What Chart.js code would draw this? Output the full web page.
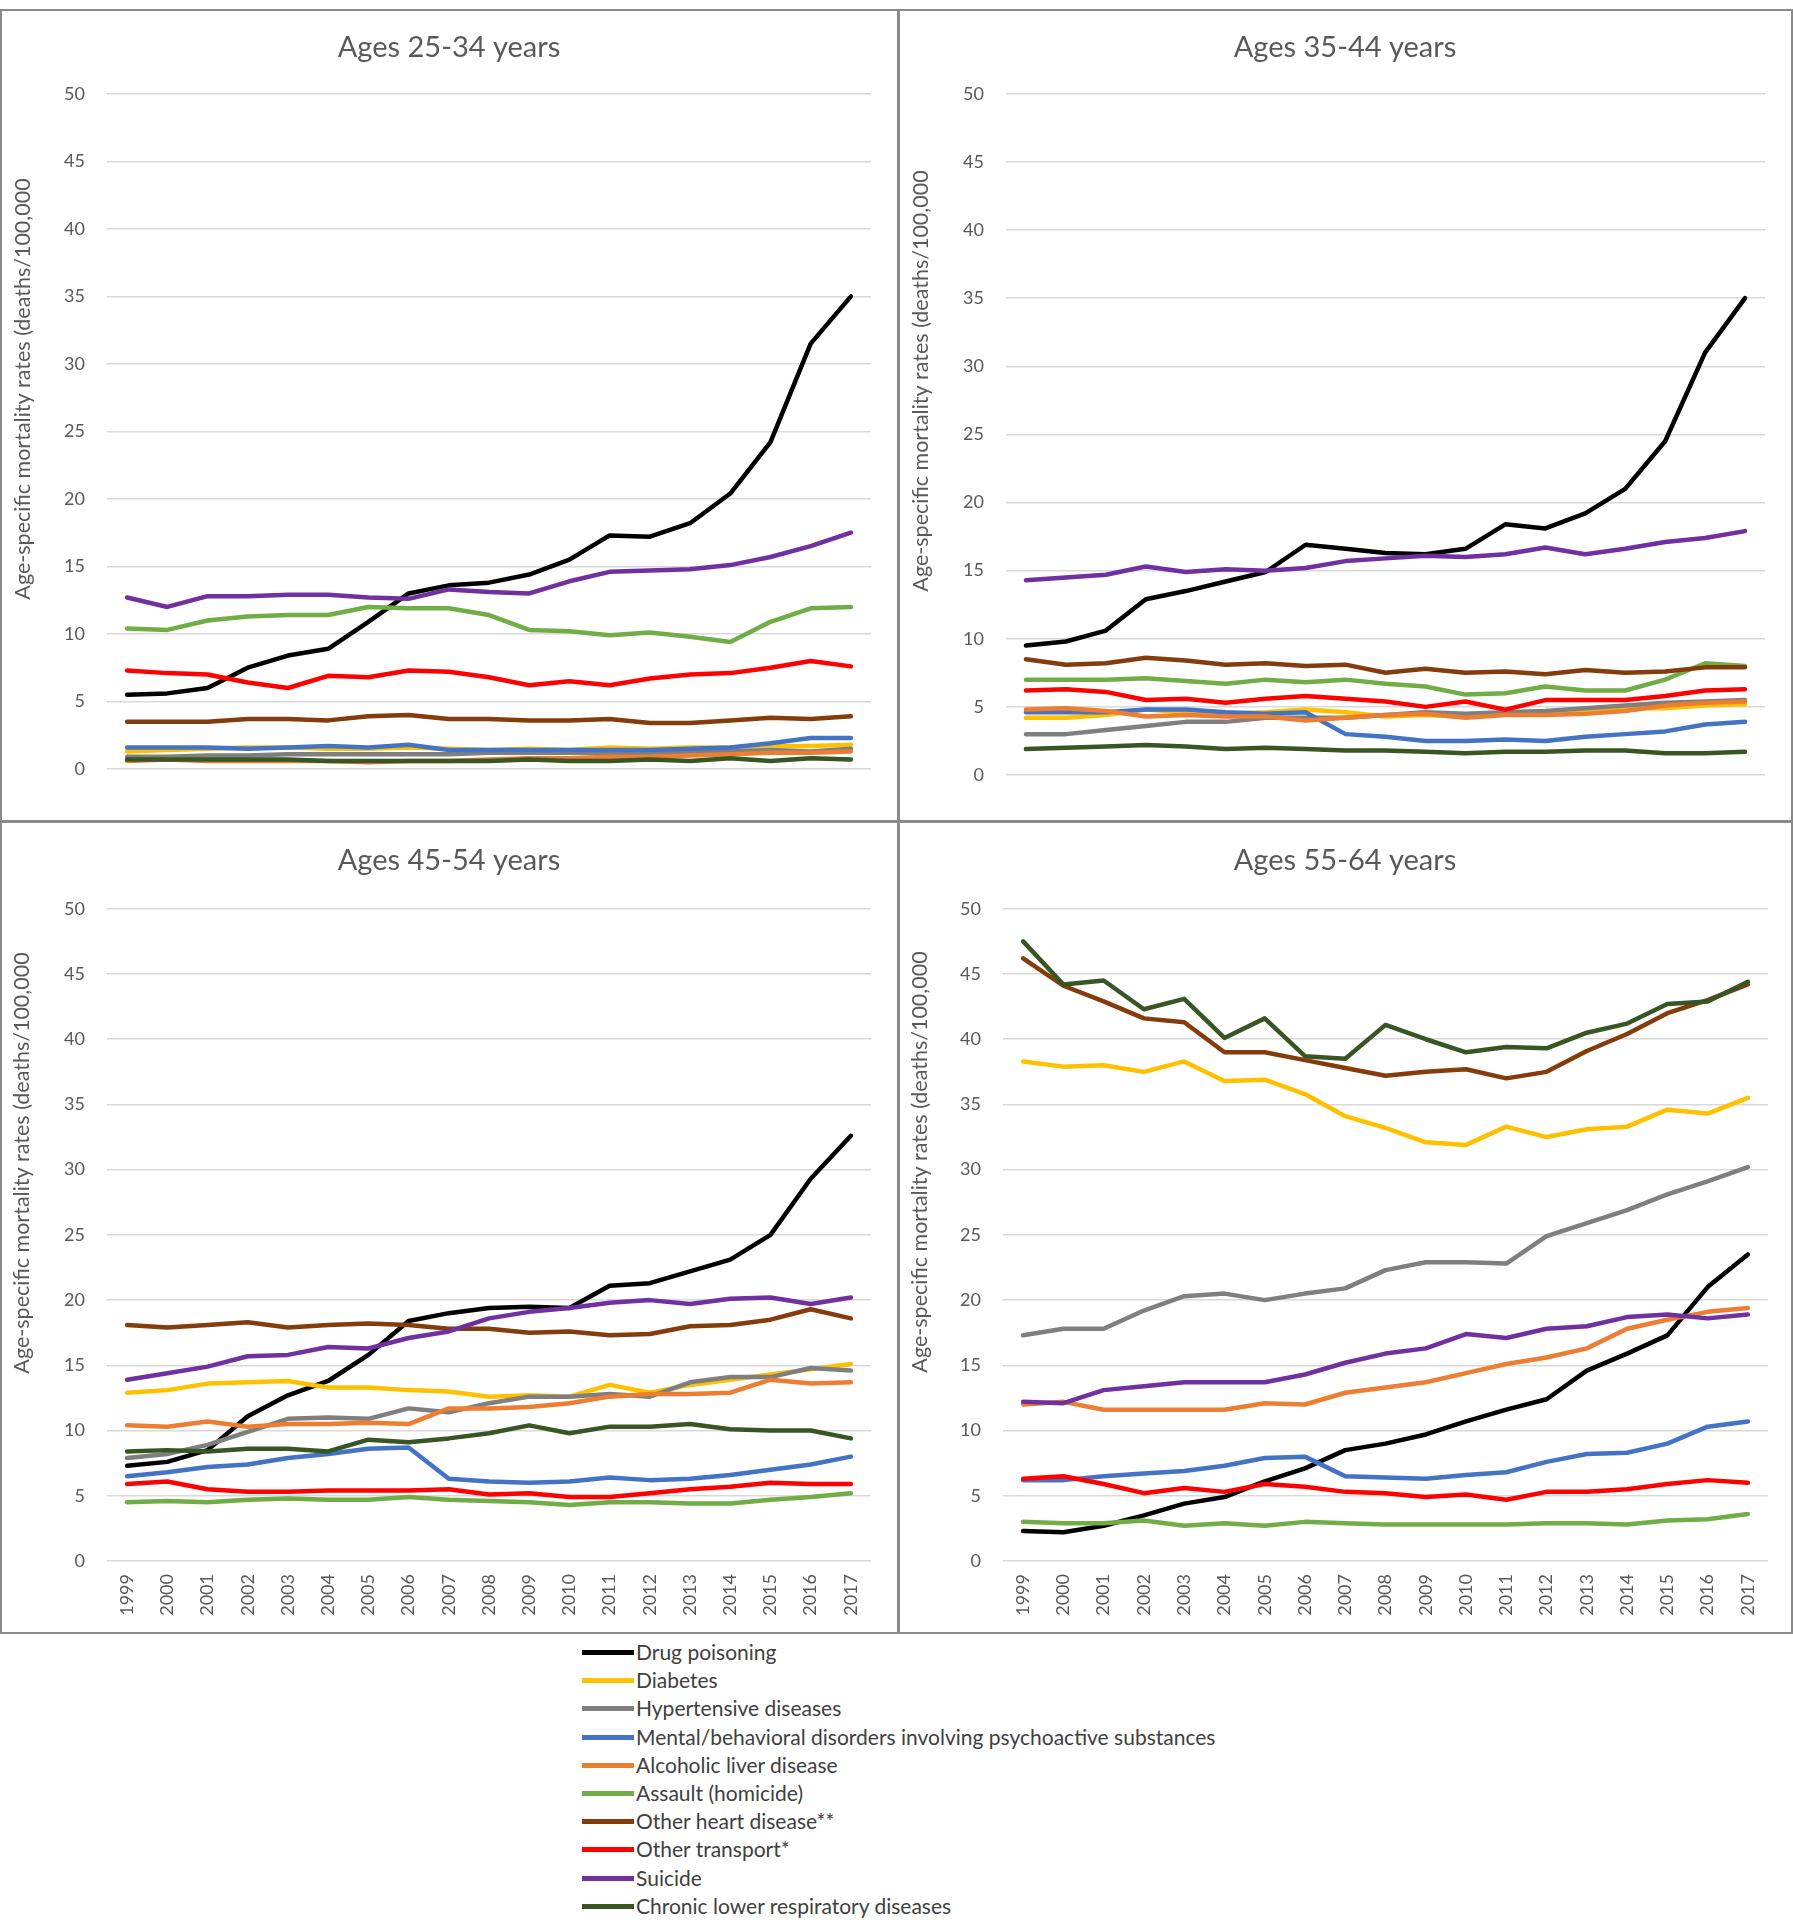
<!DOCTYPE html>
<html>
<head>
<meta charset="utf-8">
<script src="https://cdn.jsdelivr.net/npm/chart.js@4.4.1/dist/chart.umd.min.js"></script>
<style>
  body { margin: 0; background: #fff; width: 1793px; height: 1920px; position: relative; font-family: Lato, sans-serif; }
  canvas { position: absolute; }
  .frame { position: absolute; border: 2px solid #8a8a8a; box-sizing: border-box; pointer-events: none; }
  .legRow { position: absolute; left: 582px; height: 28px; }
  .legLine { position: absolute; left: 0; top: 12px; width: 52px; height: 5px; }
  .legText { position: absolute; left: 54px; top: 1px; font-size: 21px; color: #404040; white-space: nowrap; }
</style>
</head>
<body>
<canvas id="c1" width="898" height="811" style="left:0;top:10px"></canvas>
<canvas id="c2" width="894" height="811" style="left:898px;top:10px"></canvas>
<canvas id="c3" width="898" height="811" style="left:0;top:821px"></canvas>
<canvas id="c4" width="894" height="811" style="left:898px;top:821px"></canvas>
<div class="frame" style="left:0;top:9px;width:900px;height:814px"></div>
<div class="frame" style="left:897px;top:9px;width:896px;height:814px"></div>
<div class="frame" style="left:0;top:820px;width:900px;height:814px"></div>
<div class="frame" style="left:897px;top:820px;width:896px;height:814px"></div>
<div id="legend"></div>
<script>
const years = ['1999','2000','2001','2002','2003','2004','2005','2006','2007','2008','2009','2010','2011','2012','2013','2014','2015','2016','2017'];

const seriesNames = ['Drug poisoning', 'Diabetes', 'Hypertensive diseases',
  'Mental/behavioral disorders involving psychoactive substances', 'Alcoholic liver disease',
  'Assault (homicide)', 'Other heart disease**', 'Other transport*', 'Suicide',
  'Chronic lower respiratory diseases'];
const seriesColors = ['#000000', '#FFC000', '#7F7F7F', '#4472C4', '#ED7D31',
  '#70AD47', '#843C0C', '#FF0000', '#7030A0', '#375623'];

// Ages 25-34
const drug_25 = [5.5,5.6,6.0,7.5,8.4,8.9,10.9,13.0,13.6,13.8,14.4,15.5,17.3,17.2,18.2,20.4,24.2,31.5,35.0];
const diab_25 = [1.3,1.4,1.5,1.6,1.6,1.5,1.5,1.6,1.5,1.4,1.5,1.4,1.6,1.5,1.6,1.6,1.7,1.7,1.8];
const hyp_25 = [0.9,0.9,1.0,1.0,1.1,1.1,1.1,1.1,1.1,1.2,1.2,1.2,1.2,1.2,1.3,1.3,1.4,1.3,1.5];
const ment_25 = [1.6,1.6,1.6,1.5,1.6,1.7,1.6,1.8,1.4,1.4,1.4,1.4,1.4,1.4,1.5,1.6,1.9,2.3,2.3];
const liver_25 = [0.6,0.7,0.6,0.6,0.6,0.6,0.5,0.6,0.6,0.7,0.8,0.8,0.9,0.9,1.0,1.1,1.2,1.2,1.3];
const assault_25 = [10.4,10.3,11.0,11.3,11.4,11.4,12.0,11.9,11.9,11.4,10.3,10.2,9.9,10.1,9.8,9.4,10.9,11.9,12.0];
const heart_25 = [3.5,3.5,3.5,3.7,3.7,3.6,3.9,4.0,3.7,3.7,3.6,3.6,3.7,3.4,3.4,3.6,3.8,3.7,3.9];
const transp_25 = [7.3,7.1,7.0,6.4,6.0,6.9,6.8,7.3,7.2,6.8,6.2,6.5,6.2,6.7,7.0,7.1,7.5,8.0,7.6];
const suic_25 = [12.7,12.0,12.8,12.8,12.9,12.9,12.7,12.6,13.3,13.1,13.0,13.9,14.6,14.7,14.8,15.1,15.7,16.5,17.5];
const clrd_25 = [0.7,0.7,0.7,0.7,0.7,0.6,0.6,0.6,0.6,0.6,0.7,0.6,0.6,0.7,0.6,0.8,0.6,0.8,0.7];

// Ages 35-44
const drug_35 = [9.5,9.8,10.6,12.9,13.5,14.2,14.9,16.9,16.6,16.3,16.2,16.6,18.4,18.1,19.2,21.0,24.5,31.0,35.0];
const diab_35 = [4.2,4.2,4.4,4.8,4.6,4.5,4.6,4.8,4.6,4.3,4.4,4.3,4.5,4.5,4.8,4.9,4.9,5.1,5.2];
const hyp_35 = [3.0,3.0,3.3,3.6,3.9,3.9,4.2,4.2,4.2,4.4,4.6,4.5,4.6,4.7,4.9,5.1,5.3,5.4,5.5];
const ment_35 = [4.6,4.6,4.6,4.8,4.8,4.6,4.5,4.6,3.0,2.8,2.5,2.5,2.6,2.5,2.8,3.0,3.2,3.7,3.9];
const liver_35 = [4.8,4.9,4.7,4.3,4.4,4.3,4.3,4.0,4.2,4.4,4.5,4.2,4.4,4.4,4.5,4.7,5.1,5.3,5.4];
const assault_35 = [7.0,7.0,7.0,7.1,6.9,6.7,7.0,6.8,7.0,6.7,6.5,5.9,6.0,6.5,6.2,6.2,7.0,8.2,8.0];
const heart_35 = [8.5,8.1,8.2,8.6,8.4,8.1,8.2,8.0,8.1,7.5,7.8,7.5,7.6,7.4,7.7,7.5,7.6,7.9,7.9];
const transp_35 = [6.2,6.3,6.1,5.5,5.6,5.3,5.6,5.8,5.6,5.4,5.0,5.4,4.8,5.5,5.5,5.5,5.8,6.2,6.3];
const suic_35 = [14.3,14.5,14.7,15.3,14.9,15.1,15.0,15.2,15.7,15.9,16.1,16.0,16.2,16.7,16.2,16.6,17.1,17.4,17.9];
const clrd_35 = [1.9,2.0,2.1,2.2,2.1,1.9,2.0,1.9,1.8,1.8,1.7,1.6,1.7,1.7,1.8,1.8,1.6,1.6,1.7];

// Ages 45-54
const drug_45 = [7.3,7.6,8.5,11.1,12.7,13.8,15.8,18.4,19.0,19.4,19.5,19.4,21.1,21.3,22.2,23.1,25.0,29.3,32.6];
const diab_45 = [12.9,13.1,13.6,13.7,13.8,13.3,13.3,13.1,13.0,12.6,12.7,12.6,13.5,12.9,13.5,13.9,14.3,14.7,15.1];
const hyp_45 = [7.9,8.2,8.9,9.9,10.9,11.0,10.9,11.7,11.4,12.1,12.6,12.6,12.8,12.6,13.7,14.1,14.1,14.8,14.6];
const ment_45 = [6.5,6.8,7.2,7.4,7.9,8.2,8.6,8.7,6.3,6.1,6.0,6.1,6.4,6.2,6.3,6.6,7.0,7.4,8.0];
const liver_45 = [10.4,10.3,10.7,10.3,10.5,10.5,10.6,10.5,11.7,11.7,11.8,12.1,12.6,12.8,12.8,12.9,13.9,13.6,13.7];
const assault_45 = [4.5,4.6,4.5,4.7,4.8,4.7,4.7,4.9,4.7,4.6,4.5,4.3,4.5,4.5,4.4,4.4,4.7,4.9,5.2];
const heart_45 = [18.1,17.9,18.1,18.3,17.9,18.1,18.2,18.1,17.8,17.8,17.5,17.6,17.3,17.4,18.0,18.1,18.5,19.3,18.6];
const transp_45 = [5.9,6.1,5.5,5.3,5.3,5.4,5.4,5.4,5.5,5.1,5.2,4.9,4.9,5.2,5.5,5.7,6.0,5.9,5.9];
const suic_45 = [13.9,14.4,14.9,15.7,15.8,16.4,16.3,17.1,17.6,18.6,19.1,19.4,19.8,20.0,19.7,20.1,20.2,19.7,20.2];
const clrd_45 = [8.4,8.5,8.4,8.6,8.6,8.4,9.3,9.1,9.4,9.8,10.4,9.8,10.3,10.3,10.5,10.1,10.0,10.0,9.4];

// Ages 55-64
const drug_55 = [2.3,2.2,2.7,3.5,4.4,4.9,6.1,7.1,8.5,9.0,9.7,10.7,11.6,12.4,14.6,15.9,17.3,21.0,23.5];
const diab_55 = [38.3,37.9,38.0,37.5,38.3,36.8,36.9,35.8,34.1,33.2,32.1,31.9,33.3,32.5,33.1,33.3,34.6,34.3,35.5];
const hyp_55 = [17.3,17.8,17.8,19.2,20.3,20.5,20.0,20.5,20.9,22.3,22.9,22.9,22.8,24.9,25.9,26.9,28.1,29.1,30.2];
const ment_55 = [6.2,6.2,6.5,6.7,6.9,7.3,7.9,8.0,6.5,6.4,6.3,6.6,6.8,7.6,8.2,8.3,9.0,10.3,10.7];
const liver_55 = [12.0,12.2,11.6,11.6,11.6,11.6,12.1,12.0,12.9,13.3,13.7,14.4,15.1,15.6,16.3,17.8,18.5,19.1,19.4];
const assault_55 = [3.0,2.9,2.9,3.1,2.7,2.9,2.7,3.0,2.9,2.8,2.8,2.8,2.8,2.9,2.9,2.8,3.1,3.2,3.6];
const heart_55 = [46.2,44.1,42.9,41.6,41.3,39.0,39.0,38.4,37.8,37.2,37.5,37.7,37.0,37.5,39.1,40.4,42.0,43.0,44.2];
const transp_55 = [6.3,6.5,5.9,5.2,5.6,5.3,5.9,5.7,5.3,5.2,4.9,5.1,4.7,5.3,5.3,5.5,5.9,6.2,6.0];
const suic_55 = [12.2,12.1,13.1,13.4,13.7,13.7,13.7,14.3,15.2,15.9,16.3,17.4,17.1,17.8,18.0,18.7,18.9,18.6,18.9];
const clrd_55 = [47.5,44.2,44.5,42.3,43.1,40.1,41.6,38.7,38.5,41.1,40.0,39.0,39.4,39.3,40.5,41.2,42.7,42.9,44.4];

const yTicksMax = 50;
const yTicksStep = 5;
const yTitle = 'Age-specific mortality rates (deaths/100,000';

const panels = [
  { id: 'c1', title: 'Ages 25-34 years', series: [drug_25, diab_25, hyp_25, ment_25, liver_25, assault_25, heart_25, transp_25, suic_25, clrd_25],
    showX: false, left: 107, right: 27, titleTop: 20, titleBottom: 29, bottom: 26, yTitleX: 23, yTitleY: 379 },
  { id: 'c2', title: 'Ages 35-44 years', series: [drug_35, diab_35, hyp_35, ment_35, liver_35, assault_35, heart_35, transp_35, suic_35, clrd_35],
    showX: false, left: 108, right: 27, titleTop: 20, titleBottom: 29, bottom: 23, yTitleX: 23, yTitleY: 371 },
  { id: 'c3', title: 'Ages 45-54 years', series: [drug_45, diab_45, hyp_45, ment_45, liver_45, assault_45, heart_45, transp_45, suic_45, clrd_45],
    showX: true, left: 107, right: 27, titleTop: 22, titleBottom: 31, bottom: 71, yTitleX: 22, yTitleY: 342 },
  { id: 'c4', title: 'Ages 55-64 years', series: [drug_55, diab_55, hyp_55, ment_55, liver_55, assault_55, heart_55, transp_55, suic_55, clrd_55],
    showX: true, left: 105, right: 24, titleTop: 22, titleBottom: 31, bottom: 71, yTitleX: 22, yTitleY: 341 }
];

// rotated y-axis title drawn at its own spot (Excel does not centre it on the plot)
const yTitlePlugin = {
  id: 'yTitle',
  afterDraw(chart, args, opts) {
    const ctx = chart.ctx;
    ctx.save();
    ctx.translate(opts.x, opts.y);
    ctx.rotate(-Math.PI / 2);
    ctx.font = '21.5px Lato';
    ctx.fillStyle = '#595959';
    ctx.textAlign = 'center';
    ctx.textBaseline = 'middle';
    ctx.fillText(yTitle, 0, 0);
    ctx.restore();
  }
};

panels.forEach(p => {
  new Chart(document.getElementById(p.id), {
    type: 'line',
    data: {
      labels: years,
      datasets: p.series.map((vals, i) => ({
        label: seriesNames[i],
        data: vals,
        borderColor: seriesColors[i],
        backgroundColor: seriesColors[i],
        borderWidth: 4.5,
        pointRadius: 0,
        tension: 0,
        borderJoinStyle: 'round',
        borderCapStyle: 'round',
        order: 10 - i
      }))
    },
    options: {
      responsive: false,
      animation: false,
      events: [],
      // equal side padding keeps the title centred on the whole panel
      layout: { padding: { left: p.right, right: p.right, top: 0, bottom: p.showX ? 0 : p.bottom } },
      plugins: {
        legend: { display: false },
        tooltip: { enabled: false },
        title: {
          display: true,
          text: p.title,
          color: '#595959',
          font: { family: 'Lato', size: 29, weight: 'normal' },
          padding: { top: p.titleTop, bottom: p.titleBottom }
        },
        yTitle: { x: p.yTitleX, y: p.yTitleY }
      },
      scales: {
        x: {
          display: p.showX,
          offset: true,
          grid: { display: false, drawTicks: false },
          border: { display: false },
          afterFit: s => { s.height = p.bottom; },
          ticks: {
            color: '#595959',
            font: { family: 'Lato', size: 18 },
            maxRotation: 90,
            minRotation: 90,
            autoSkip: false,
            padding: 13
          }
        },
        y: {
          min: 0,
          max: yTicksMax,
          afterFit: s => { s.width = p.left - p.right; },
          grid: { color: '#d9d9d9', lineWidth: 1.5, drawTicks: false },
          border: { display: false },
          ticks: {
            stepSize: yTicksStep,
            color: '#595959',
            font: { family: 'Lato', size: 18 },
            padding: 22
          }
        }
      }
    },
    plugins: [yTitlePlugin]
  });
});

// legend below the panels
const legend = document.getElementById('legend');
seriesNames.forEach((name, i) => {
  const row = document.createElement('div');
  row.className = 'legRow';
  row.style.top = (1638 + i * 28.2) + 'px';
  row.innerHTML = '<div class="legLine" style="background:' + seriesColors[i] + '"></div>' +
    '<div class="legText">' + name + '</div>';
  legend.appendChild(row);
});
</script>
</body>
</html>
